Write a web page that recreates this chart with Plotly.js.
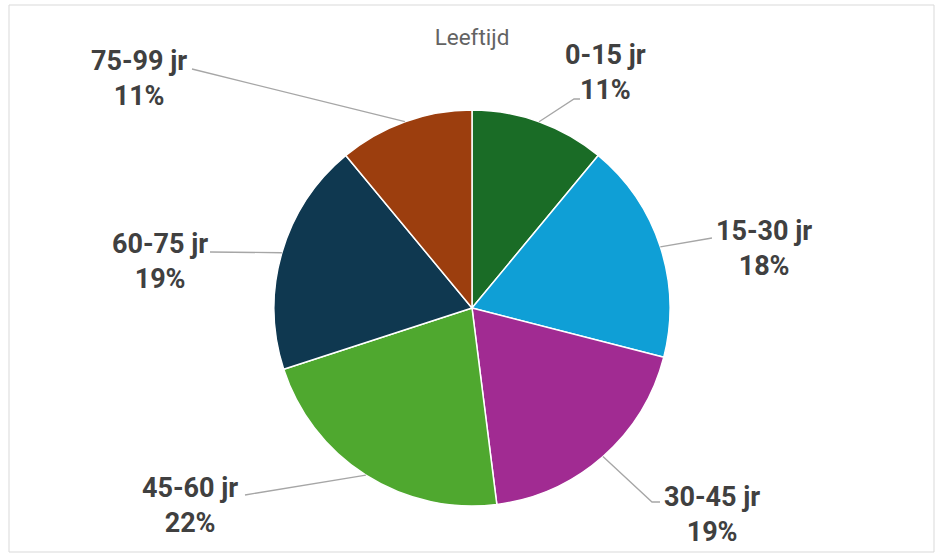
<!DOCTYPE html>
<html>
<head>
<meta charset="utf-8">
<script src="https://cdn.plot.ly/plotly-3.0.1.min.js"></script>
<style>
  html, body { margin: 0; padding: 0; background: #ffffff; }
  #chart { width: 939px; height: 558px; }
</style>
</head>
<body>
<div id="chart"></div>
<script>
// ---- data ----
const categories = ['0-15 jr', '15-30 jr', '30-45 jr', '45-60 jr', '60-75 jr', '75-99 jr'];
const values = [11, 18, 19, 22, 19, 11];
const chartTitle = 'Leeftijd';

// ---- style / layout ----
const colors = ['#1a6c26', '#0f9fd6', '#a12b92', '#4fa82f', '#0f3850', '#9c3e0e'];
const W = 939, H = 558;
const CX = 472, CY = 308, R = 198;            // pie centre & radius in pixels
// label block centres (pixels) and leader line waypoints after the slice edge
const labelCenters = [[605, 72], [764, 248], [712, 514], [190, 505], [160, 261], [139, 79]];
const leaderPaths = [
  [[574, 99], [580, 99]],
  [[712, 238]],
  [[652, 502], [660, 502]],
  [[245, 495]],
  [[210, 252]],
  [[192, 69]]
];

const px = x => x / W;
const py = y => 1 - y / H;

const total = values.reduce((a, b) => a + b, 0);

const trace = {
  type: 'pie',
  labels: categories,
  values: values,
  sort: false,
  direction: 'clockwise',
  rotation: 0,
  textinfo: 'none',
  hoverinfo: 'label+percent',
  marker: { colors: colors, line: { color: '#ffffff', width: 1.5 } },
  domain: { x: [px(CX - R), px(CX + R)], y: [py(CY + R), py(CY - R)] },
  showlegend: false
};

const annotations = [];
const shapes = [];
let cum = 0;
values.forEach((v, i) => {
  const mid = (cum + v / 2) / total * 2 * Math.PI;
  cum += v;
  const sx = CX + R * Math.sin(mid);
  const sy = CY - R * Math.cos(mid);
  const pts = [[sx, sy]].concat(leaderPaths[i]);
  let d = 'M ' + px(pts[0][0]) + ' ' + py(pts[0][1]);
  for (let k = 1; k < pts.length; k++) d += ' L ' + px(pts[k][0]) + ' ' + py(pts[k][1]);
  shapes.push({ type: 'path', xref: 'paper', yref: 'paper', path: d,
    line: { color: '#a6a6a6', width: 1.3 } });
  const pct = Math.round(v / total * 100) + '%';
  annotations.push({
    xref: 'paper', yref: 'paper',
    x: px(labelCenters[i][0]), y: py(labelCenters[i][1]),
    xanchor: 'center', yanchor: 'middle',
    text: '<b>' + categories[i] + '</b><br><b>' + pct + '</b>',
    showarrow: false, align: 'center',
    font: { family: 'Roboto, Arial, sans-serif', size: 27, color: '#404040' }
  });
});

// chart border
shapes.push({ type: 'rect', xref: 'paper', yref: 'paper',
  x0: px(9), x1: px(934), y0: py(552), y1: py(5),
  line: { color: '#d9d9d9', width: 1 }, fillcolor: 'rgba(0,0,0,0)' });

const layout = {
  width: W, height: H,
  margin: { l: 0, r: 0, t: 0, b: 0 },
  paper_bgcolor: '#ffffff',
  title: { text: chartTitle, x: px(472), xanchor: 'center', y: py(37), yanchor: 'middle',
    font: { family: 'Roboto, Arial, sans-serif', size: 22.5, color: '#636363' } },
  annotations: annotations,
  shapes: shapes
};

Plotly.newPlot('chart', [trace], layout, { displayModeBar: false, staticPlot: true });
</script>
</body>
</html>
